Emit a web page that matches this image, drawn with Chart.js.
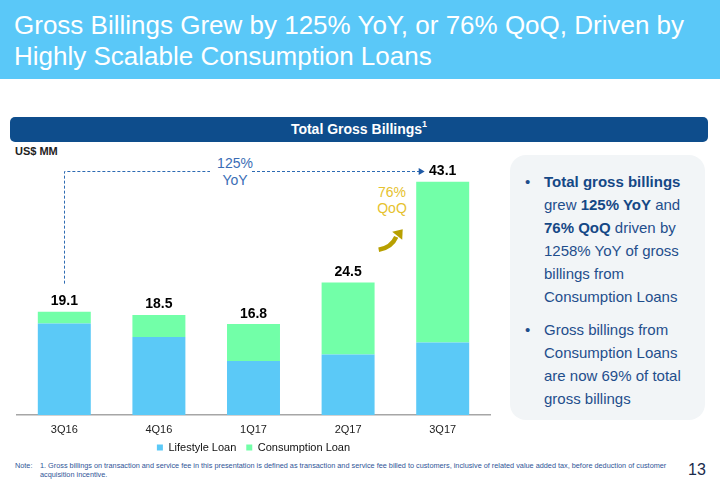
<!DOCTYPE html>
<html>
<head>
<meta charset="utf-8">
<script src="https://cdn.jsdelivr.net/npm/chart.js@4"></script>
<style>
  body{margin:0;width:720px;height:498px;overflow:hidden;background:#fff;font-family:"Liberation Sans",Arial,sans-serif;position:relative}
  .abs{position:absolute}
  #banner{left:0;top:0;width:720px;height:79px;background:#5AC8F8}
  #title{left:14px;top:10px;color:#fff;font-size:26px;line-height:31px;white-space:nowrap}
  #band{left:10px;top:117px;width:698px;height:25px;background:#0E4D8C;border-radius:5px;color:#fff;font-weight:bold;font-size:14px;line-height:25px;text-align:center}
  #band sup{font-size:9px;position:relative;top:-2px;vertical-align:top;line-height:18px}
  #unit{left:15px;top:145px;font-size:11px;font-weight:bold;color:#222;line-height:13px}
  #panel{left:510px;top:155px;width:195px;height:265px;background:#F2F5F7;border-radius:16px}
  #ptext{left:525px;top:170px;color:#1F4E8C;font-size:15px;white-space:nowrap}
  #ptext .ln{height:23px;line-height:23px;padding-left:19px;position:relative}
  #ptext .bl{position:absolute;left:0;top:0}
  #ptext .gap{height:10px}
  #ptext b{color:#154886}
  .yoy{color:#3A6DB5;font-size:14px;line-height:16.5px;text-align:center;width:60px}
  .qoq{color:#E6C22E;font-size:14px;line-height:15.5px;text-align:center;width:60px}
  #note{left:15px;top:461px;font-size:7.3px;line-height:9px;color:#2F5597}
  #notetxt{left:40px;top:461px;font-size:7.3px;line-height:9px;color:#2F5597;white-space:nowrap}
  #page{left:688px;top:461px;font-size:16px;line-height:18px;color:#1A2B4C}
  canvas{position:absolute;left:0;top:0}
</style>
</head>
<body>
<div id="banner" class="abs"></div>
<div id="title" class="abs">Gross Billings Grew by 125% YoY, or 76% QoQ, Driven by<br>Highly Scalable Consumption Loans</div>
<div id="band" class="abs">Total Gross Billings<sup>1</sup></div>
<div id="unit" class="abs">US$ MM</div>
<div id="panel" class="abs"></div>
<div id="ptext" class="abs">
  <div class="ln"><span class="bl">•</span><b>Total gross billings</b></div>
  <div class="ln">grew <b>125% YoY</b> and</div>
  <div class="ln"><b>76% QoQ</b> driven by</div>
  <div class="ln">1258% YoY of gross</div>
  <div class="ln">billings from</div>
  <div class="ln">Consumption Loans</div>
  <div class="gap"></div>
  <div class="ln"><span class="bl">•</span>Gross billings from</div>
  <div class="ln">Consumption Loans</div>
  <div class="ln">are now 69% of total</div>
  <div class="ln">gross billings</div>
</div>
<div class="abs yoy" style="left:205px;top:155px">125%<br>YoY</div>
<div class="abs qoq" style="left:362px;top:185px">76%<br>QoQ</div>
<div id="note" class="abs">Note:</div>
<div id="notetxt" class="abs">1. Gross billings on transaction and service fee in this presentation is defined as transaction and service fee billed to customers, inclusive of related value added tax, before deduction of customer<br>acquisition incentive.</div>
<div id="page" class="abs">13</div>
<canvas id="c" width="720" height="498"></canvas>
<script>
const categories = ['3Q16', '4Q16', '1Q17', '2Q17', '3Q17'];
const lifestyleLoan = [16.9, 14.4, 10.0, 11.2, 13.4];
const consumptionLoan = [2.2, 4.1, 6.8, 13.3, 29.7];
const seriesNames = ['Lifestyle Loan', 'Consumption Loan'];

const FONT = '"Liberation Sans", Arial, sans-serif';

const legendNudge = {
  id: 'legendNudge',
  afterLayout(chart) {
    if (chart.legend) { chart.legend.top -= 5; chart.legend.bottom -= 5; }
  }
};

const deco = {
  id: 'deco',
  afterDatasetsDraw(chart) {
    const {ctx, scales: {x, y}} = chart;
    const meta = chart.getDatasetMeta(1);
    const totals = categories.map((c, i) => lifestyleLoan[i] + consumptionLoan[i]);
    ctx.save();
    ctx.font = 'bold 14px ' + FONT;
    ctx.fillStyle = '#000';
    ctx.textAlign = 'center';
    ctx.textBaseline = 'alphabetic';
    totals.forEach((t, i) => {
      ctx.fillText(t.toFixed(1), meta.data[i].x, y.getPixelForValue(t) - 6.5);
    });
    // dashed YoY connector
    const last = totals.length - 1;
    const x0 = x.getPixelForValue(0), xl = x.getPixelForValue(last);
    const ly = Math.round(y.getPixelForValue(totals[last]) - 11) + 0.5;
    const vx = Math.round(x0) + 0.5;
    ctx.strokeStyle = '#2E6BB3';
    ctx.lineWidth = 1;
    ctx.setLineDash([3, 2]);
    ctx.beginPath();
    ctx.moveTo(vx, y.getPixelForValue(totals[0]) - 28);
    ctx.lineTo(vx, ly);
    ctx.lineTo(210, ly);
    ctx.moveTo(252, ly);
    ctx.lineTo(xl - 23, ly);
    ctx.stroke();
    ctx.setLineDash([]);
    ctx.fillStyle = '#1F5AA6';
    ctx.beginPath();
    ctx.moveTo(xl - 18, ly);
    ctx.lineTo(xl - 24, ly - 3.5);
    ctx.lineTo(xl - 24, ly + 3.5);
    ctx.closePath();
    ctx.fill();
    // curved QoQ arrow
    const ax = xl - 40, ay = y.getPixelForValue(totals[last]) + 47.5;
    ctx.strokeStyle = '#B8A000';
    ctx.fillStyle = '#B8A000';
    ctx.lineWidth = 4.5;
    ctx.lineCap = 'butt';
    ctx.beginPath();
    ctx.moveTo(ax - 24, ay + 20.5);
    ctx.quadraticCurveTo(ax - 11, ay + 18, ax - 6.5, ay + 7.5);
    ctx.stroke();
    ctx.beginPath();
    ctx.moveTo(ax, ay);
    ctx.lineTo(ax - 0.5, ay + 10.5);
    ctx.lineTo(ax - 10.5, ay + 2.5);
    ctx.closePath();
    ctx.fill();
    ctx.restore();
  }
};

new Chart(document.getElementById('c'), {
  type: 'bar',
  data: {
    labels: categories,
    datasets: [
      {label: seriesNames[0], data: lifestyleLoan, backgroundColor: '#5BC9F7', borderWidth: 0},
      {label: seriesNames[1], data: consumptionLoan, backgroundColor: '#72FFA8', borderWidth: 0}
    ]
  },
  options: {
    responsive: false,
    animation: false,
    devicePixelRatio: 1,
    layout: {padding: {left: 17, right: 230, top: 171.5, bottom: 30}},
    datasets: {bar: {categoryPercentage: 1, barPercentage: 0.56}},
    scales: {
      x: {
        stacked: true,
        grid: {display: false, drawTicks: false, tickLength: 0},
        border: {display: true, color: '#A6A6A6', width: 1.5},
        ticks: {font: {family: FONT, size: 11}, color: '#222', padding: 8},
        afterFit(s) { s.height = 22; }
      },
      y: {stacked: true, display: false, min: 0, max: 45}
    },
    plugins: {
      legend: {
        position: 'bottom',
        labels: {font: {family: FONT, size: 11}, color: '#111', boxWidth: 6, boxHeight: 6, padding: 10}
      },
      tooltip: {enabled: false}
    }
  },
  plugins: [legendNudge, deco]
});
</script>
</body>
</html>
